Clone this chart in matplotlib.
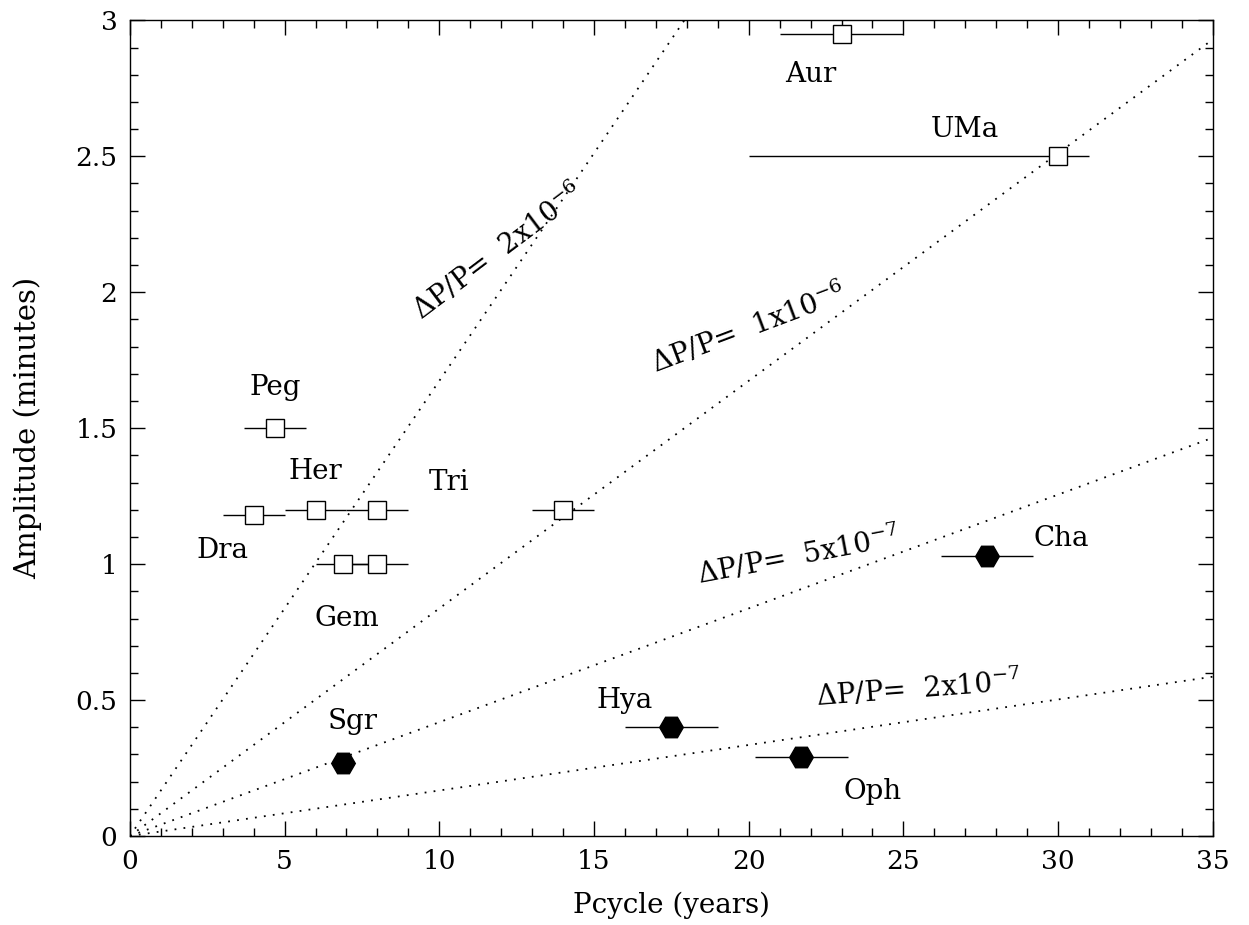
import numpy as np
import matplotlib
matplotlib.use("Agg")
import matplotlib.pyplot as plt
from matplotlib.ticker import MultipleLocator, FuncFormatter

plt.rcParams['font.family'] = 'DejaVu Serif'
plt.rcParams['mathtext.fontset'] = 'dejavuserif'

# systems with open squares: name, Pcycle, amplitude, lower/upper error on Pcycle
sq_name = ['Peg', 'Dra', 'Her', 'Her', 'Gem', 'Gem', 'Tri', 'Aur', 'UMa']
sq_x = [4.7, 4.0, 6.0, 8.0, 6.9, 8.0, 14.0, 23.0, 30.0]
sq_y = [1.50, 1.18, 1.20, 1.20, 1.00, 1.00, 1.20, 2.95, 2.50]
sq_elo = [1.0, 1.0, 1.0, 1.0, 0.9, 1.0, 1.0, 2.0, 10.0]
sq_ehi = [1.0, 1.0, 1.0, 1.0, 1.0, 1.0, 1.0, 2.0, 1.0]

# systems with filled hexagons
hx_name = ['Sgr', 'Hya', 'Oph', 'Cha']
hx_x = [6.9, 17.5, 21.7, 27.7]
hx_y = [0.27, 0.40, 0.29, 1.03]
hx_elo = [0.0, 1.5, 1.5, 1.5]
hx_ehi = [0.0, 1.5, 1.5, 1.5]

# text labels for the systems
lab_text = ['Peg', 'Her', 'Dra', 'Gem', 'Tri', 'Aur', 'UMa', 'Sgr', 'Hya', 'Oph', 'Cha']
lab_x = [4.7, 6.0, 3.0, 7.0, 10.3, 22.0, 27.0, 7.2, 16.0, 24.0, 30.1]
lab_y = [1.65, 1.34, 1.05, 0.80, 1.30, 2.80, 2.60, 0.42, 0.50, 0.165, 1.095]

# lines of constant dP/P = 2*pi*A/Pcycle
dpp = [2e-6, 1e-6, 5e-7, 2e-7]
dpp_lab = [r'$\Delta$P/P=  2x10$^{-6}$', r'$\Delta$P/P=  1x10$^{-6}$',
           r'$\Delta$P/P=  5x10$^{-7}$', r'$\Delta$P/P=  2x10$^{-7}$']
dpp_lab_x = [11.9, 20.0, 21.6, 25.5]
dpp_lab_y = [2.15, 1.87, 1.03, 0.54]

min_per_yr = 365.25 * 24 * 60

fig = plt.figure(figsize=(12.49, 9.25), dpi=100)
ax = fig.add_axes([0.104, 0.0962, 0.867, 0.8818])

xx = np.linspace(0, 35, 400)
for d in dpp:
    ax.plot(xx, d * min_per_yr / (2 * np.pi) * xx, color='black', lw=1.3,
            linestyle=(0, (1, 4)))

ax.errorbar(sq_x, sq_y, xerr=[sq_elo, sq_ehi], fmt='s', ms=12.5, mfc='white',
            mec='black', mew=1.0, ecolor='black', elinewidth=1.0, capsize=0, zorder=3)
ax.errorbar(hx_x, hx_y, xerr=[hx_elo, hx_ehi], fmt='H', ms=17, mfc='black',
            mec='black', ecolor='black', elinewidth=1.0, capsize=0, zorder=3)

for t, x, y in zip(lab_text, lab_x, lab_y):
    ax.text(x, y, t, fontsize=20, ha='center', va='center')

# rotate each line label to follow its line on screen
fig.canvas.draw()
for d, t, x, y in zip(dpp, dpp_lab, dpp_lab_x, dpp_lab_y):
    k = d * min_per_yr / (2 * np.pi)
    p0 = ax.transData.transform((0, 0))
    p1 = ax.transData.transform((10, 10 * k))
    ang = np.degrees(np.arctan2(p1[1] - p0[1], p1[0] - p0[0]))
    ax.text(x, y, t, fontsize=20, ha='center', va='center', rotation=ang,
            rotation_mode='anchor')

ax.set_xlim(0, 35)
ax.set_ylim(0, 3)
ax.xaxis.set_major_locator(MultipleLocator(5))
ax.xaxis.set_minor_locator(MultipleLocator(1))
ax.yaxis.set_major_locator(MultipleLocator(0.5))
ax.yaxis.set_minor_locator(MultipleLocator(0.1))
ax.yaxis.set_major_formatter(FuncFormatter(lambda v, p: f'{v:g}'))
ax.tick_params(which='both', direction='in', top=True, right=True, width=1.0,
               labelsize=19, pad=9)
ax.tick_params(which='major', length=11)
ax.tick_params(which='minor', length=5.5)
for s in ax.spines.values():
    s.set_linewidth(1.0)

ax.set_xlabel('Pcycle (years)', fontsize=20, labelpad=13)
ax.set_ylabel('Amplitude (minutes)', fontsize=21, labelpad=24)

fig.savefig('out.png', dpi=100)
